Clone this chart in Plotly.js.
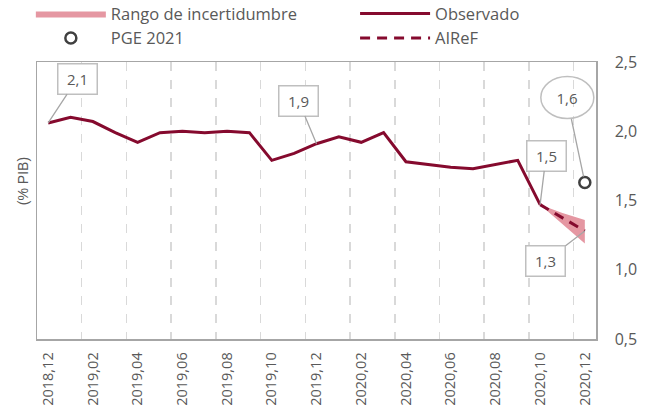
<!DOCTYPE html>
<html>
<head>
<meta charset="utf-8">
<script src="https://cdn.plot.ly/plotly-3.0.1.min.js"></script>
<style>html,body{margin:0;padding:0;background:#fff;}#chart{width:646px;height:407px;}</style>
</head>
<body>
<div id="chart"></div>
<script>
const months = ["2018,12","2019,01","2019,02","2019,03","2019,04","2019,05","2019,06","2019,07","2019,08","2019,09","2019,10","2019,11","2019,12",
  "2020,01","2020,02","2020,03","2020,04","2020,05","2020,06","2020,07","2020,08","2020,09","2020,10","2020,11","2020,12"];
const observedMonths = months.slice(0, 23);
const observed = [2.06,2.10,2.07,1.99,1.92,1.99,2.00,1.99,2.00,1.99,1.79,1.84,1.91,
  1.96,1.92,1.99,1.78,1.76,1.74,1.73,1.76,1.79,1.47];
const forecastMonths = ["2020,10","2020,11","2020,12"];
const airef = [1.47,1.375,1.28];
const bandLower = [1.47,1.33,1.19];
const bandUpper = [1.47,1.41,1.36];
const pgeMonth = ["2020,12"];
const pge = [1.63];
const tickLabels = months.filter((m,i)=>i%2===0);

const red = "#850a2e";
const gray = "#595959";
const font = "'Open Sans', Lato, sans-serif";

const traces = [
  {x: forecastMonths, y: bandLower, type:"scatter", mode:"lines", line:{width:0, color:"rgba(0,0,0,0)"}, showlegend:false, hoverinfo:"skip"},
  {x: forecastMonths, y: bandUpper, type:"scatter", mode:"lines", fill:"tonexty", fillcolor:"#e597a2", line:{width:0, color:"#e597a2"}, name:"Rango de incertidumbre", legend:"legend"},
  {x: observedMonths, y: observed, type:"scatter", mode:"lines", line:{color:red, width:3}, name:"Observado", legend:"legend2"},
  {x: pgeMonth, y: pge, type:"scatter", mode:"markers", marker:{symbol:"circle-open", size:11, color:"#404040", line:{width:2.5, color:"#404040"}}, name:"PGE 2021", legend:"legend"},
  {x: forecastMonths, y: airef, type:"scatter", mode:"lines", line:{color:red, width:3, dash:"10px,7px"}, name:"AIReF", legend:"legend2"}
];

function boxNote(xv, yv, txt, ax, ay) {
  return {x: xv, y: yv, xref:"x", yref:"y", text: txt, showarrow:true, arrowhead:0, arrowwidth:1.3, arrowcolor:"#a6a6a6",
    ax: ax, ay: ay, standoff:0, bordercolor:"#bfbfbf", borderwidth:1.5, borderpad:3, bgcolor:"#ffffff",
    width:32, height:23, font:{family:font, size:15, color:gray}};
}

const annotations = [
  boxNote(months[0], observed[0], "2,1", 29, -44),
  boxNote(months[12], observed[12], "1,9", -18, -43),
  boxNote(months[22], observed[22], "1,5", 6, -49),
  boxNote(months[24], airef[2], "1,3", -39, 30),
  {x: pgeMonth[0], y: pge[0], xref:"x", yref:"y", text:"1,6", showarrow:true, arrowhead:0, arrowwidth:1.3, arrowcolor:"#a6a6a6",
    ax:-18, ay:-85, standoff:6, width:48, height:40, font:{family:font, size:15, color:gray}},
  {x:-0.025, y:0.57, xref:"paper", yref:"paper", xanchor:"center", yanchor:"middle", text:"(% PIB)", showarrow:false, textangle:-90,
    font:{family:"'Liberation Sans', Arial, sans-serif", size:14, color:gray}}
];

const shapes = [
  {type:"circle", xref:"x", yref:"y", xsizemode:"pixel", ysizemode:"pixel", xanchor: pgeMonth[0], yanchor: pge[0],
   x0:-44, x1:9, y0:64, y1:106, line:{color:"#bfbfbf", width:1.5}, fillcolor:"rgba(0,0,0,0)", layer:"above"}
];

const legendBase = {orientation:"v", yanchor:"top", y:1.237, itemwidth:70, tracegroupgap:0,
  font:{family:font, size:16.5, color:gray}, traceorder:"normal", bgcolor:"rgba(0,0,0,0)"};

const layout = {
  width:646, height:407,
  margin:{l:37, r:50, t:62, b:68, autoexpand:false},
  paper_bgcolor:"#ffffff", plot_bgcolor:"#ffffff",
  separators:",.",
  font:{family:font, color:gray, size:14},
  showlegend:true,
  legend: Object.assign({}, legendBase, {x:-0.011, xanchor:"left"}),
  legend2: Object.assign({}, legendBase, {x:0.569, xanchor:"left"}),
  xaxis:{type:"category", categoryorder:"array", categoryarray:months, range:[-0.5,24.5],
    tickmode:"array", tickvals:tickLabels, ticktext:tickLabels, tickson:"boundaries",
    tickangle:-90, ticks:"", ticklabelstandoff:6, tickfont:{family:font, size:14.5, color:gray},
    showgrid:true, gridcolor:"#d9d9d9", gridwidth:1.5, griddash:"dash",
    showline:true, mirror:true, linecolor:"#a6a6a6", linewidth:1.5, zeroline:false, fixedrange:true, automargin:false},
  yaxis:{side:"right", range:[0.5,2.5], dtick:0.5, tick0:0.5, tickformat:".1f", ticks:"", ticklabelstandoff:14,
    tickfont:{family:font, size:16, color:gray}, showgrid:false, zeroline:false,
    showline:true, mirror:true, linecolor:"#a6a6a6", linewidth:1.5, fixedrange:true, automargin:false},
  annotations: annotations,
  shapes: shapes
};

Plotly.newPlot("chart", traces, layout, {displayModeBar:false, staticPlot:true});
</script>
</body>
</html>
